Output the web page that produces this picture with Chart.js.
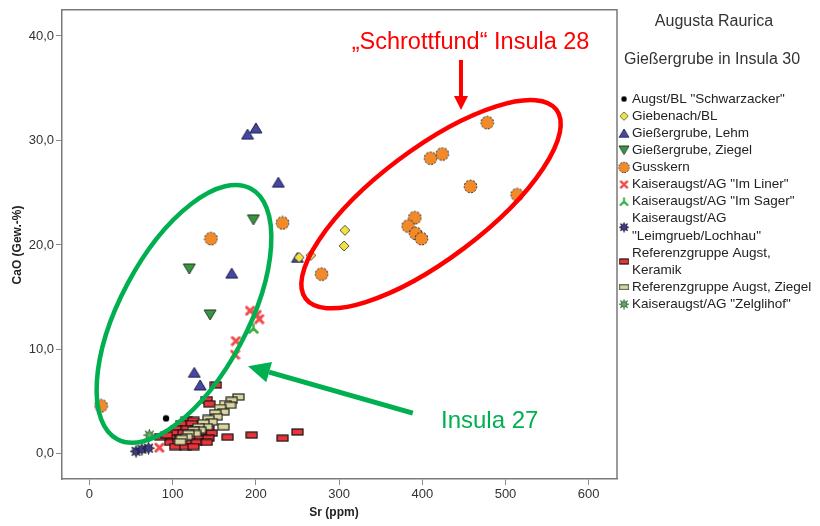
<!DOCTYPE html>
<html>
<head>
<meta charset="utf-8">
<script src="https://cdn.jsdelivr.net/npm/chart.js@4/dist/chart.umd.min.js"></script>
<style>
  html, body { margin: 0; background: #fff; }
  #wrap { width: 820px; height: 526px; position: relative; }
</style>
</head>
<body>
<div id="wrap"><canvas id="chart" width="820" height="526"></canvas></div>
<script>
/* ── data: [Sr ppm, CaO Gew.-%] ── */
const xTicks = [0, 100, 200, 300, 400, 500, 600];
const yTicks = [0, 10, 20, 30, 40];

const schwarzacker = [[92, 3.4], [120, 2.2]];
const giebenach    = [[307, 21.4], [306, 19.9], [252, 18.8], [266, 19.0]];
const lehm         = [[190, 30.6], [200, 31.2], [227, 26.0], [171, 17.3], [126, 7.8], [133, 6.6], [250, 18.8]];
const ziegelGrube  = [[197, 22.4], [120, 17.7], [145, 13.3]];
const gusskern     = [[14, 4.6], [146, 20.6], [232, 22.1], [279, 17.2], [478, 31.7], [410, 28.3], [424, 28.7],
                      [458, 25.6], [514, 24.8], [391, 22.6], [383, 21.8], [392, 21.1], [399, 20.6]];
const imLiner      = [[193, 13.7], [201, 13.3], [204, 12.9], [176, 10.8], [175, 9.5], [84, 0.6]];
const imSager      = [[197, 12.0]];
const leimgrueb    = [[56, 0.25], [63, 0.45], [71, 0.55]];
const keramik      = [[117, 3.2], [125, 3.2], [111, 2.9], [123, 2.9], [137, 2.9],
                      [105, 2.4], [117, 2.4], [129, 2.4], [143, 2.4],
                      [101, 2.0], [113, 2.0], [125, 2.0], [137, 2.0], [147, 2.0],
                      [99, 1.5], [109, 1.5], [121, 1.5], [133, 1.5], [143, 1.5],
                      [97, 1.1], [107, 1.1], [119, 1.1], [129, 1.1], [141, 1.1],
                      [103, 0.7], [115, 0.7], [125, 0.7], [85, 1.65], [93, 1.8],
                      [152, 6.6], [141, 5.2], [144, 4.8], [166, 1.6], [195, 1.8], [232, 1.5], [250, 2.1]];
const ziegelRef    = [[179, 5.45], [171, 5.13], [163, 4.82], [169, 4.66], [157, 4.44], [161, 4.02], [151, 3.93],
                      [153, 3.55], [143, 3.39], [147, 3.07], [137, 2.98], [141, 2.6], [131, 2.6], [133, 2.28],
                      [125, 2.28], [127, 1.96], [119, 1.96], [117, 1.65], [111, 1.49], [109, 1.17], [161, 2.6]];
const zelglihof    = [[72, 1.8]];

const seriesNames = [
  'Augst/BL "Schwarzacker"', 'Giebenach/BL', 'Gießergrube, Lehm', 'Gießergrube, Ziegel', 'Gusskern',
  'Kaiseraugst/AG "Im Liner"', 'Kaiseraugst/AG "Im Sager"', 'Kaiseraugst/AG\n"Leimgrueb/Lochhau"',
  'Referenzgruppe Augst,\nKeramik', 'Referenzgruppe Augst, Ziegel', 'Kaiseraugst/AG "Zelglihof"'
];
const seriesData = [schwarzacker, giebenach, lehm, ziegelGrube, gusskern, imLiner, imSager,
                    leimgrueb, keramik, ziegelRef, zelglihof];

const FONT = '"Liberation Sans", Arial, sans-serif';
const RED = '#ff0000';
const GREEN = '#00b050';

/* ── marker images ── */
function marker(w, h, draw) {
  const c = document.createElement('canvas');
  c.width = w; c.height = h;
  draw(c.getContext('2d'), w / 2, h / 2);
  return c;
}
function star(g, cx, cy, n, r1, r2) {
  g.beginPath();
  for (let i = 0; i < n * 2; i++) {
    const r = i % 2 ? r2 : r1;
    const a = -Math.PI / 2 + i * Math.PI / n;
    g.lineTo(cx + r * Math.cos(a), cy + r * Math.sin(a));
  }
  g.closePath();
}

const markers = [
  marker(8, 8, (g, cx, cy) => { g.fillStyle = '#000'; g.beginPath(); g.arc(cx, cy, 3.2, 0, 7); g.fill(); }),
  marker(12, 12, (g, cx, cy) => {
    g.beginPath(); g.moveTo(cx, 1); g.lineTo(11, cy); g.lineTo(cx, 11); g.lineTo(1, cy); g.closePath();
    g.fillStyle = '#f2e23a'; g.fill(); g.strokeStyle = '#555'; g.lineWidth = 1; g.stroke();
  }),
  marker(14, 12, (g) => {
    g.beginPath(); g.moveTo(7, 1); g.lineTo(13, 11); g.lineTo(1, 11); g.closePath();
    g.fillStyle = '#4547a0'; g.fill(); g.strokeStyle = '#1c1c4a'; g.lineWidth = 1; g.stroke();
  }),
  marker(14, 12, (g) => {
    g.beginPath(); g.moveTo(1, 1); g.lineTo(13, 1); g.lineTo(7, 11); g.closePath();
    g.fillStyle = '#3a9444'; g.fill(); g.strokeStyle = '#1c3a1c'; g.lineWidth = 1; g.stroke();
  }),
  marker(15, 15, (g, cx, cy) => {
    g.beginPath(); g.arc(cx, cy, 6.3, 0, 7);
    g.fillStyle = '#f28a2a'; g.fill();
    g.setLineDash([2, 1.5]); g.strokeStyle = '#222'; g.lineWidth = 1; g.stroke();
  }),
  marker(11, 11, (g) => {
    g.strokeStyle = '#f04a4a'; g.lineWidth = 3; g.lineCap = 'round';
    g.beginPath(); g.moveTo(2, 2); g.lineTo(9, 9); g.moveTo(9, 2); g.lineTo(2, 9); g.stroke();
  }),
  marker(11, 11, (g, cx, cy) => {
    g.strokeStyle = '#3cb043'; g.lineWidth = 2.5; g.lineCap = 'round';
    g.beginPath(); g.moveTo(cx, cy); g.lineTo(cx, 1.5);
    g.moveTo(cx, cy); g.lineTo(1.5, 9.5); g.moveTo(cx, cy); g.lineTo(9.5, 9.5); g.stroke();
  }),
  marker(13, 13, (g, cx, cy) => {
    star(g, cx, cy, 8, 6, 3);
    g.fillStyle = '#3b3a8e'; g.fill(); g.strokeStyle = '#111'; g.lineWidth = 0.8; g.stroke();
  }),
  marker(13, 8, (g) => {
    g.fillStyle = '#e8343a'; g.fillRect(1, 1, 11, 6);
    g.strokeStyle = '#111'; g.lineWidth = 1.2; g.strokeRect(1, 1, 11, 6);
  }),
  marker(13, 8, (g) => {
    g.fillStyle = '#d9d59e'; g.fillRect(1, 1, 11, 6);
    g.strokeStyle = '#222'; g.lineWidth = 1.2; g.strokeRect(1, 1, 11, 6);
  }),
  marker(13, 13, (g, cx, cy) => {
    star(g, cx, cy, 8, 6, 2.4);
    g.fillStyle = '#5bb85b'; g.fill(); g.strokeStyle = '#244a24'; g.lineWidth = 0.8; g.stroke();
  })
];

/* ── overlay: frame, axis titles, legend, annotations ── */
function arrow(ctx, x0, y0, x1, y1, lw, headLen, headW, color) {
  const ang = Math.atan2(y1 - y0, x1 - x0);
  const bx = x1 - headLen * Math.cos(ang), by = y1 - headLen * Math.sin(ang);
  ctx.strokeStyle = color; ctx.fillStyle = color; ctx.lineWidth = lw;
  ctx.beginPath(); ctx.moveTo(x0, y0); ctx.lineTo(bx, by); ctx.stroke();
  ctx.beginPath();
  ctx.moveTo(x1, y1);
  ctx.lineTo(bx + headW / 2 * Math.sin(ang), by - headW / 2 * Math.cos(ang));
  ctx.lineTo(bx - headW / 2 * Math.sin(ang), by + headW / 2 * Math.cos(ang));
  ctx.closePath(); ctx.fill();
}

const overlay = {
  id: 'overlay',
  afterDraw(chart) {
    const { ctx, chartArea: a, scales: { x, y } } = chart;
    ctx.save();

    // frame top / right
    ctx.strokeStyle = '#7a7a7a'; ctx.lineWidth = 1.5;
    ctx.beginPath(); ctx.moveTo(a.left, a.top); ctx.lineTo(a.right, a.top); ctx.lineTo(a.right, a.bottom); ctx.stroke();

    // axis titles
    ctx.fillStyle = '#222'; ctx.font = 'bold 12px ' + FONT;
    ctx.textAlign = 'center'; ctx.textBaseline = 'middle';
    ctx.fillText('Sr (ppm)', 334, 513);
    ctx.save(); ctx.translate(18, 245); ctx.rotate(-Math.PI / 2);
    ctx.fillText('CaO (Gew.-%)', 0, 0); ctx.restore();

    // legend
    ctx.fillStyle = '#333'; ctx.font = '16px ' + FONT;
    ctx.fillText('Augusta Raurica', 714, 22);
    ctx.fillText('Gießergrube in Insula 30', 712, 60);
    ctx.font = '13.5px ' + FONT; ctx.textAlign = 'left'; ctx.fillStyle = '#222';
    let ly = 99;
    const step = 17.1;
    seriesNames.forEach((name, i) => {
      const lines = name.split('\n');
      const my = ly + (lines.length - 1) * step / 2;
      const m = markers[i];
      ctx.drawImage(m, 624 - m.width * 0.42, my - m.height * 0.42, m.width * 0.84, m.height * 0.84);
      lines.forEach((t, k) => ctx.fillText(t, 632, ly + k * step));
      ly += lines.length * step;
    });

    // annotations
    const ell = (sr, cao, ra, rb, rot, color) => {
      ctx.beginPath();
      ctx.ellipse(x.getPixelForValue(sr), y.getPixelForValue(cao), ra, rb, rot * Math.PI / 180, 0, Math.PI * 2);
      ctx.strokeStyle = color; ctx.lineWidth = 4.5; ctx.stroke();
    };
    ell(410.5, 23.9, 157, 55, -37, RED);
    ell(113.6, 13.4, 142, 64, -62, GREEN);

    arrow(ctx, x.getPixelForValue(446.5), y.getPixelForValue(37.7),
               x.getPixelForValue(446.5), y.getPixelForValue(32.9), 4, 14, 14, RED);
    arrow(ctx, x.getPixelForValue(388.6), y.getPixelForValue(3.9),
               x.getPixelForValue(190.5), y.getPixelForValue(8.4), 5, 22, 21, GREEN);

    ctx.font = '23.5px ' + FONT; ctx.textAlign = 'center';
    ctx.fillStyle = RED;
    ctx.fillText('\u201ESchrottfund\u201C Insula 28', x.getPixelForValue(458), y.getPixelForValue(39.4));
    ctx.fillStyle = GREEN;
    ctx.font = '24px ' + FONT;
    ctx.fillText('Insula 27', x.getPixelForValue(481), y.getPixelForValue(3.1));
    ctx.restore();
  }
};

const n = seriesData.length;
new Chart(document.getElementById('chart'), {
  type: 'scatter',
  data: {
    datasets: seriesData.map((pts, i) => ({
      label: seriesNames[i].replace('\n', ' '),
      data: pts.map(([sr, cao]) => ({ x: sr, y: cao })),
      pointStyle: markers[i],
      pointRadius: 5,
      order: i === 2 ? n : n - i,
    }))
  },
  options: {
    responsive: false,
    animation: false,
    events: [],
    layout: { padding: { top: 7, right: 203, left: 0, bottom: 0 } },
    plugins: { legend: { display: false }, tooltip: { enabled: false } },
    scales: {
      x: {
        type: 'linear', min: -33, max: 634,
        afterBuildTicks: s => { s.ticks = xTicks.map(v => ({ value: v })); },
        afterFit: s => { s.height = 47; },
        grid: { drawOnChartArea: false, drawTicks: true, tickLength: 6, color: '#8a8a8a' },
        border: { display: true, color: '#7a7a7a', width: 1.5 },
        ticks: { color: '#333', font: { family: FONT, size: 13 }, padding: 2, maxRotation: 0, autoSkip: false }
      },
      y: {
        type: 'linear', min: -2.4, max: 42.5,
        afterBuildTicks: s => { s.ticks = yTicks.map(v => ({ value: v })); },
        afterFit: s => { s.width = 62; },
        grid: { drawOnChartArea: false, drawTicks: true, tickLength: 6, color: '#8a8a8a' },
        border: { display: true, color: '#7a7a7a', width: 1.5 },
        ticks: {
          color: '#333', font: { family: FONT, size: 13 }, padding: 2, autoSkip: false,
          callback: v => v.toFixed(1).replace('.', ',')
        }
      }
    }
  },
  plugins: [overlay]
});
</script>
</body>
</html>
